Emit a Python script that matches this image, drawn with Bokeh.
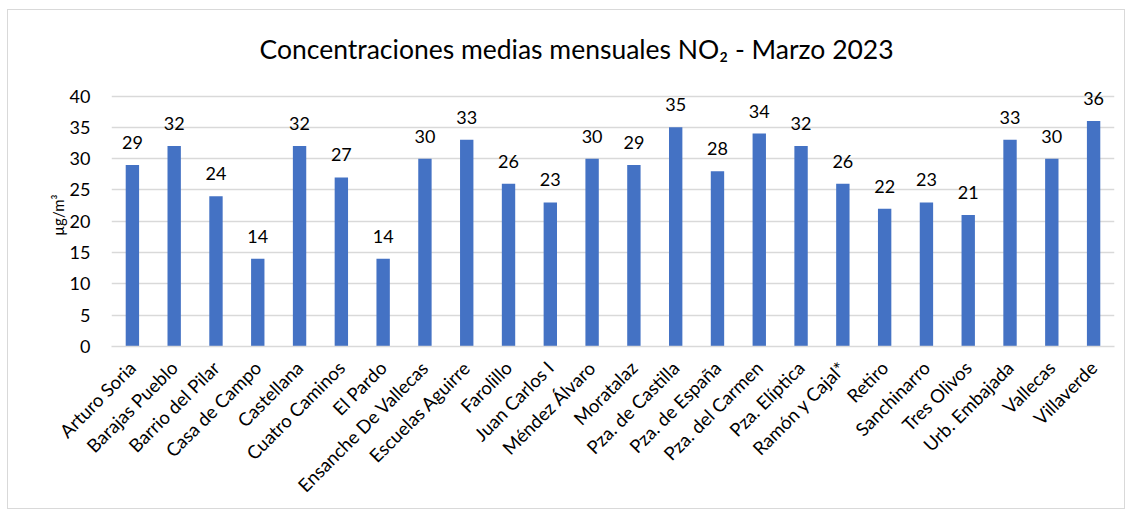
import math
from bokeh.plotting import figure
from bokeh.models import ColumnDataSource, FixedTicker, Range1d
from bokeh.core.properties import value
from bokeh.embed import file_html
from bokeh.resources import INLINE

stations = ["Arturo Soria", "Barajas Pueblo", "Barrio del Pilar", "Casa de Campo",
            "Castellana", "Cuatro Caminos", "El Pardo", "Ensanche De Vallecas",
            "Escuelas Aguirre", "Farolillo", "Juan Carlos I", "Méndez Álvaro",
            "Moratalaz", "Pza. de Castilla", "Pza. de España", "Pza. del Carmen",
            "Pza. Elíptica", "Ramón y Cajal*", "Retiro", "Sanchinarro",
            "Tres Olivos", "Urb. Embajada", "Vallecas", "Villaverde"]
no2 = [29, 32, 24, 14, 32, 27, 14, 30, 33, 26, 23, 30, 29, 35, 28, 34, 32, 26,
       22, 23, 21, 33, 30, 36]
y_ticks = [0, 5, 10, 15, 20, 25, 30, 35, 40]

FONT = "Lato"
src = ColumnDataSource(dict(x=stations, y=no2, lbl=[str(v) for v in no2]))

# y range extends a little above 40 so the value labels are not clipped
p = figure(x_range=stations, y_range=Range1d(0, 42), width=1118, height=500,
           output_backend="svg", toolbar_location=None,
           title="Concentraciones medias mensuales NO₂ - Marzo 2023",
           min_border_left=103, min_border_right=12, min_border_top=73,
           min_border_bottom=164)
p.margin = (9, 0, 0, 7)
p.styles = {"border": "1px solid #d9d9d9"}
p.outline_line_color = None
p.background_fill_color = "white"
p.border_fill_color = "white"

p.title.text_font = FONT
p.title.text_font_size = "26.5px"
p.title.text_font_style = "normal"
p.title.text_color = "#000000"
p.title.align = "left"
p.title.offset = 148
p.title.vertical_align = "bottom"
p.title.standoff = 38

p.vbar(x="x", top="y", width=0.32, source=src, fill_color="#4472C4",
       line_color=None)
p.text(x="x", y="y", text="lbl", source=src, text_align="center",
       text_baseline="bottom", y_offset=-16, text_font=value(FONT),
       text_font_size="18px", text_color="#000000")

p.xgrid.grid_line_color = None
p.ygrid.grid_line_color = "#d9d9d9"
p.ygrid.grid_line_width = 1.5
p.yaxis.ticker = FixedTicker(ticks=y_ticks)

for ax in (p.xaxis, p.yaxis):
    ax.axis_line_color = None
    ax.major_tick_line_color = None
    ax.minor_tick_line_color = None
    ax.major_label_text_font = FONT
    ax.major_label_text_font_size = "18px"
    ax.major_label_text_color = "#000000"

p.xaxis.axis_line_color = "#d9d9d9"
p.xaxis.axis_line_width = 1.5
p.xaxis.major_label_orientation = math.pi / 4
p.xaxis.major_label_standoff = 12
p.xaxis.major_label_text_font_size = "18.5px"

p.yaxis.major_label_standoff = 15
p.yaxis.axis_label = "µg/m³"
p.yaxis.axis_label_text_font = FONT
p.yaxis.axis_label_text_font_size = "15px"
p.yaxis.axis_label_text_font_style = "normal"
p.yaxis.axis_label_text_color = "#000000"
p.yaxis.axis_label_standoff = 0

open("out.html", "w").write(file_html(p, INLINE))
